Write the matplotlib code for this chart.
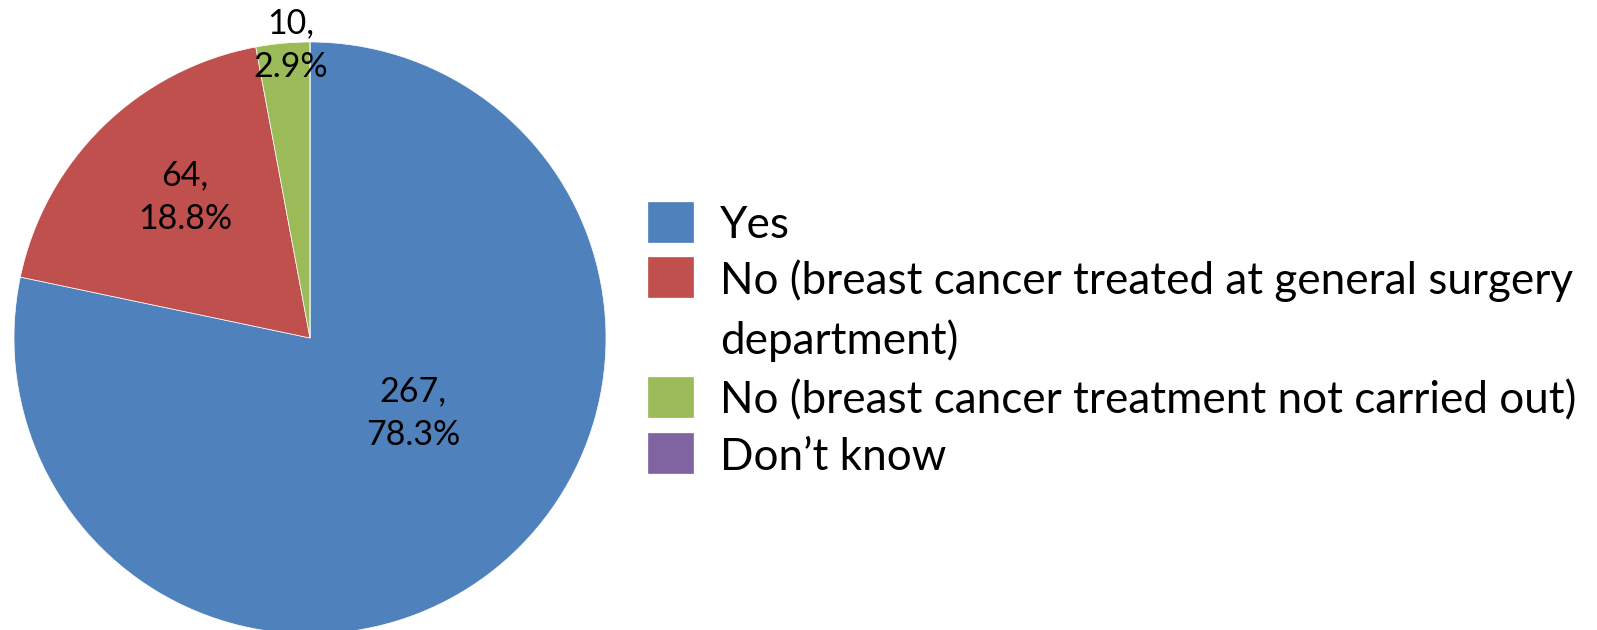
import matplotlib
matplotlib.use("Agg")
import matplotlib.pyplot as plt
from matplotlib.patches import Rectangle

categories = ["Yes",
              "No (breast cancer treated at general surgery\ndepartment)",
              "No (breast cancer treatment not carried out)",
              "Don\u2019t know"]
counts = [267, 64, 10, 0]
percents = [78.3, 18.8, 2.9, 0.0]
colors = ["#4F81BD", "#C0504D", "#9BBB59", "#8064A2"]

W, H = 1597, 630
fig = plt.figure(figsize=(W / 100, H / 100), dpi=100)
fig.patch.set_facecolor("white")

cx, cy, r = 310, 338, 296
ax = fig.add_axes([(cx - r) / W, (H - cy - r) / H, 2 * r / W, 2 * r / H])

wedges, _ = ax.pie(counts, colors=colors, startangle=90, counterclock=False,
                   radius=1, wedgeprops=dict(linewidth=0.5, edgecolor="white"))
ax.set_xlim(-1, 1)
ax.set_ylim(-1, 1)
ax.set_aspect("equal")
ax.axis("off")

label_font = ["Lato", "DejaVu Sans"]
label_pos = [(0.348, -0.253), (-0.422, 0.475), (-0.064, 0.988)]
for (x, y), n, p in zip(label_pos, counts, percents):
    ax.text(x, y, f"{n},\n{p:.1f}%", ha="center", va="center", fontsize=24.5,
            family=label_font, linespacing=1.45, clip_on=False)

# legend
leg_font = ["Lato", "DejaVu Sans"]
sq_x, sq_w, sq_h = 648, 45, 40
text_x = 720
row_y = [222, 277, 397, 453]
line_gap = 60
for c, lab, y in zip(colors, categories, row_y):
    fig.patches.append(Rectangle(((sq_x) / W, (H - y - sq_h / 2) / H), sq_w / W, sq_h / H,
                                 transform=fig.transFigure, facecolor=c,
                                 edgecolor=c, linewidth=0.5))
    lines = lab.split("\n")
    for i, ln in enumerate(lines):
        fig.text(text_x / W, (H - y - i * line_gap) / H, ln, ha="left", va="center_baseline",
                 fontsize=31.7, family=leg_font)

fig.savefig("out.png", dpi=100, facecolor="white")
